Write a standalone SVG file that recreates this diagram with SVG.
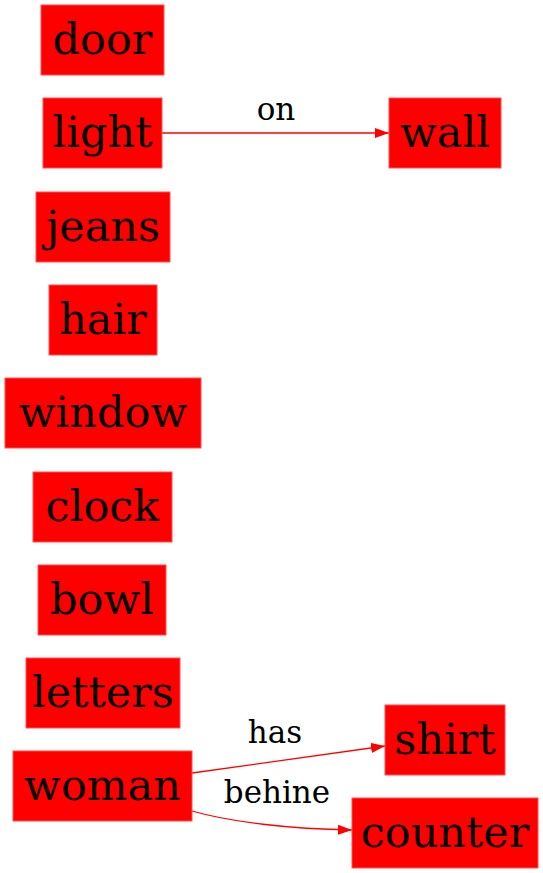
<svg xmlns="http://www.w3.org/2000/svg" width="543" height="873" viewBox="0 0 543 873">
<style>
.n rect{fill:#ff0000;stroke:#ff5050;stroke-width:1}
.n text{font-family:"DejaVu Serif",serif;font-size:43px;fill:#000;text-anchor:middle}
.e path{fill:none;stroke:#ff0000;stroke-width:1.3}
.e text{font-family:"DejaVu Serif",serif;font-size:31px;fill:#000;text-anchor:middle}
</style>
<defs>
<marker id="ah" markerWidth="14" markerHeight="10" refX="14" refY="5" orient="auto" markerUnits="userSpaceOnUse">
<path d="M0,0 L14,5 L0,10 Z" fill="#ff0000"/>
</marker>
</defs>
<g class="e" id="edges">
<path d="M162,133 L389,133" marker-end="url(#ah)"/>
<text x="276" y="120">on</text>
<path d="M192,773 L385,746" marker-end="url(#ah)"/>
<text x="275" y="743">has</text>
<path d="M192,811 C230,822 290,829 352,830" marker-end="url(#ah)"/>
<text x="277" y="803">behine</text>
</g>
<g class="n" id="door"><rect x="41" y="5" width="123" height="70"/><text x="102.5" y="54">door</text></g>
<g class="n" id="light"><rect x="43" y="98" width="119" height="70"/><text x="102.5" y="147">light</text></g>
<g class="n" id="jeans"><rect x="36" y="192" width="134" height="70"/><text x="103" y="241">jeans</text></g>
<g class="n" id="hair"><rect x="49" y="285" width="108" height="70"/><text x="103" y="334">hair</text></g>
<g class="n" id="window"><rect x="5" y="378" width="196" height="70"/><text x="103" y="427">window</text></g>
<g class="n" id="clock"><rect x="33" y="472" width="139" height="70"/><text x="102.5" y="521">clock</text></g>
<g class="n" id="bowl"><rect x="38" y="565" width="128" height="70"/><text x="102" y="614">bowl</text></g>
<g class="n" id="letters"><rect x="26" y="658" width="154" height="70"/><text x="103" y="707">letters</text></g>
<g class="n" id="woman"><rect x="13" y="751" width="179" height="70"/><text x="102.5" y="800">woman</text></g>
<g class="n" id="wall"><rect x="389" y="98" width="112" height="70"/><text x="445" y="147">wall</text></g>
<g class="n" id="shirt"><rect x="385" y="705" width="120" height="70"/><text x="445" y="754">shirt</text></g>
<g class="n" id="counter"><rect x="352" y="798" width="186" height="70"/><text x="445" y="847">counter</text></g>
</svg>
